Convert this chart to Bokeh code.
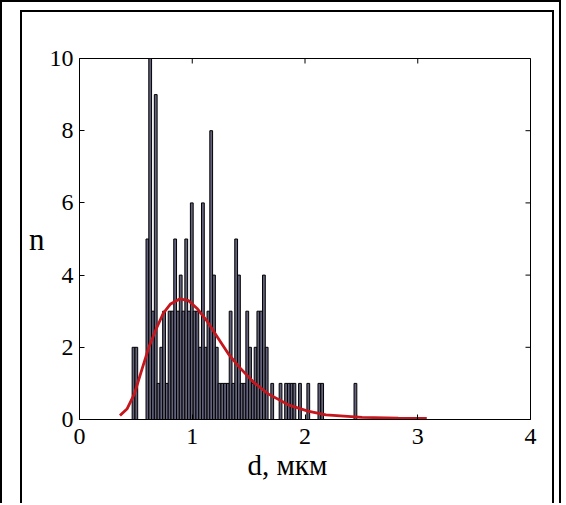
import math
from bokeh.plotting import figure
from bokeh.layouts import column
from bokeh.models import Range1d, FixedTicker, ColumnDataSource, Title
from bokeh.embed import file_html
from bokeh.resources import INLINE

# ---- data ----
bin_start = 0.467      # left edge of the first histogram bin, мкм
bin_width = 0.0246     # histogram bin width, мкм
counts = [2, 2, 0, 0, 0, 5, 10, 3, 9, 1,
          2, 3, 1, 3, 3, 5, 3, 4, 3, 5,
          3, 6, 3, 3, 2, 6, 2, 3, 8, 4,
          2, 1, 1, 1, 1, 3, 1, 5, 4, 1,
          1, 3, 2, 1, 2, 3, 3, 4, 2, 0,
          1, 0, 0, 1, 0, 1, 1, 1, 1, 0,
          1, 0, 0, 1, 0, 0, 0, 1, 1, 0,
          0, 0, 0, 0, 0, 0, 0, 0, 0, 0,
          1]

fit_d = [0.359, 0.423, 0.487, 0.551, 0.615, 0.679, 0.744, 0.808, 0.888, 0.968,
         1.048, 1.128, 1.224, 1.320, 1.417, 1.545, 1.673, 1.865, 2.026, 2.186,
         2.506, 2.827, 3.080]
fit_n = [0.11, 0.30, 0.71, 1.36, 2.00, 2.50, 2.95, 3.20, 3.34, 3.29,
         3.06, 2.74, 2.28, 1.82, 1.45, 1.03, 0.71, 0.39, 0.23, 0.13,
         0.06, 0.04, 0.03]

x_ticks = [0, 1, 2, 3, 4]
y_ticks = [0, 2, 4, 6, 8, 10]
x_min, x_max = 0, 4
y_min, y_max = 0, 10
x_label = "d, мкм"
y_label = "n"

# ---- histogram table ----
left, right, top = [], [], []
for k, c in enumerate(counts):
    if c > 0:
        left.append(bin_start + k * bin_width)
        right.append(bin_start + (k + 1) * bin_width)
        top.append(c)
hist_src = ColumnDataSource(dict(left=left, right=right, top=top, bottom=[0] * len(top)))
fit_src = ColumnDataSource(dict(d=fit_d, n=fit_n))

W, H = 534, 493
p = figure(width=W, height=H, x_range=Range1d(x_min, x_max), y_range=Range1d(y_min, y_max),
           output_backend="svg", toolbar_location=None,
           min_border_left=57, min_border_right=26, min_border_top=46, min_border_bottom=86,
           background_fill_color="white", border_fill_color="white")
p.grid.visible = False
p.outline_line_color = "black"
p.outline_line_width = 1
p.outline_line_alpha = 1

p.quad(left="left", right="right", top="top", bottom="bottom", source=hist_src,
       fill_color="#62627c", line_color="black", line_width=1)
p.line("d", "n", source=fit_src, line_color="#c4161c", line_width=2.8)

# mirrored inward tick marks on the top and right edges (half is clipped by the frame)
p.scatter(x=x_ticks, y=[y_max] * len(x_ticks), marker="dash", angle=math.pi / 2,
          size=10, line_color="black", line_width=1)
p.scatter(x=[x_max] * len(y_ticks), y=y_ticks, marker="dash",
          size=10, line_color="black", line_width=1)

FONT = "Liberation Serif"
for ax, ticks in ((p.xaxis[0], x_ticks), (p.yaxis[0], y_ticks)):
    ax.ticker = FixedTicker(ticks=ticks)
    ax.major_tick_in = 5
    ax.major_tick_out = 0
    ax.minor_tick_line_color = None
    ax.axis_line_color = "black"
    ax.major_tick_line_color = "black"
    ax.major_label_text_font = FONT
    ax.major_label_text_font_size = "24px"
    ax.major_label_text_color = "black"
    ax.axis_label_text_font = FONT
    ax.axis_label_text_font_style = "normal"
    ax.axis_label_text_color = "black"
p.xaxis[0].major_label_standoff = 9
p.yaxis[0].major_label_standoff = 6
p.yaxis[0].axis_label = y_label
p.yaxis[0].axis_label_text_font_size = "31px"
p.yaxis[0].axis_label_orientation = "horizontal"
p.yaxis[0].axis_label_standoff = 2

# x-axis title below the axis, a little left of centre as in the picture
p.add_layout(Title(text=x_label, align="left", offset=168, standoff=0,
                   text_font=FONT, text_font_size="29px", text_font_style="normal",
                   text_color="black"), "below")

# picture frame (double border)
p.styles = {"border-left": "2px solid black", "border-top": "2px solid black",
            "border-right": "2px solid black"}
page = column(p, styles={"border-left": "2px solid black", "border-top": "2px solid black",
                         "border-right": "2px solid black",
                         "padding-left": "18px", "padding-top": "8px", "padding-right": "5px"})

open("out.html", "w").write(file_html(page, INLINE))
